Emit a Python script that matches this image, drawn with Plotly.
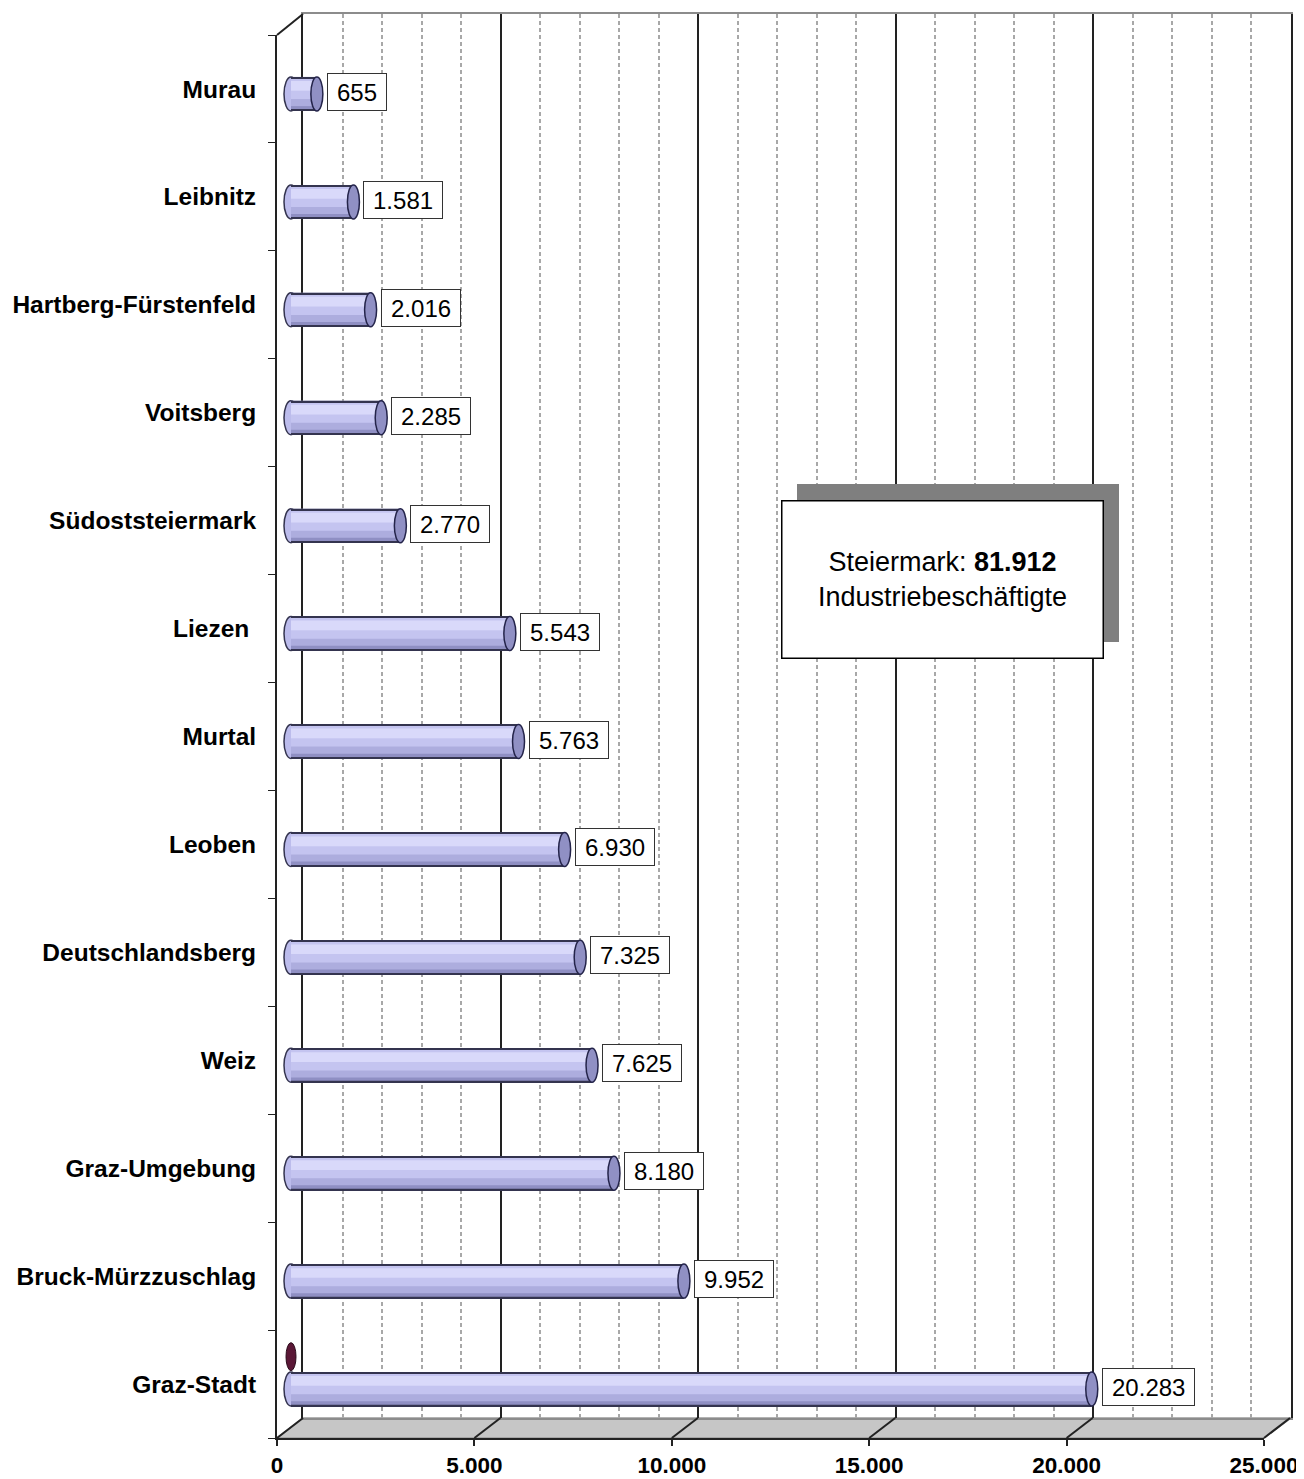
# Libraries
import plotly.graph_objects as go

# Data (bottom to top)
districts = [
    "Graz-Stadt",
    "Bruck-Mürzzuschlag",
    "Graz-Umgebung",
    "Weiz",
    "Deutschlandsberg",
    "Leoben",
    "Murtal",
    "Liezen\u00a0",
    "Südoststeiermark",
    "Voitsberg",
    "Hartberg-Fürstenfeld",
    "Leibnitz",
    "Murau",
]
employees = [20283, 9952, 8180, 7625, 7325, 6930, 5763, 5543, 2770, 2285, 2016, 1581, 655]
stray_series = [0]  # tiny second-series point drawn next to Graz-Stadt
total_steiermark = 81912
x_ticks = [0, 5000, 10000, 15000, 20000, 25000]

# Geometry (screen pixels; the page body adds an 8px offset)
OFF = 8
W, H = 1304 - OFF, 1479 - OFF
L, R, T, B = 277, 1291, 14, 1438  # plot box (front-left to back-right)
DX, DY = 26, 20  # depth offset of the back wall
PPU = 987 / 25000  # pixels per unit on the value axis
BAR0 = 291  # pixel where the cylinders start
HALF = 0.1575  # half thickness of a cylinder in category units


def px(x):
    return (x - L) / (R - L)


def py(y):
    return (B - y) / (B - T)


def fmt(v):
    return f"{v:,}".replace(",", ".")


def label_width(s):
    # rough Arial 24px width plus side padding
    return sum(6.7 if c == "." else 13.35 for c in s) + 12


FONT = "Arial, Liberation Sans, sans-serif"
DARK = "#222222"
n = len(districts)
idx = list(range(n))

fig = go.Figure()

# back wall axes (x / y) only used for the grid
fig.add_trace(go.Scatter(x=[None], y=[None], xaxis="x", yaxis="y", showlegend=False, hoverinfo="skip"))

# cylinders: stacked bands give the shaded tube look
bands = [
    (-HALF, 2 * HALF, "#c4c4f0"),  # body
    (0.03, 0.09, "#d9d9fa"),  # highlight
    (-HALF, 0.11, "#adadde"),  # lower shade
    (-HALF, 0.045, "#8f8fc3"),  # deep shade
    (HALF - 0.013, 0.013, "#34344f"),  # top edge
    (-HALF, 0.013, "#34344f"),  # bottom edge
]
for off, wid, col in bands:
    fig.add_trace(
        go.Bar(
            x=employees,
            y=idx,
            orientation="h",
            width=wid,
            offset=off,
            marker=dict(color=col, line=dict(width=0)),
            xaxis="x2",
            yaxis="y2",
            showlegend=False,
            hoverinfo="skip" if wid != 2 * HALF else None,
        )
    )

# front axes (x3 / y3) carry ticks and labels
fig.add_trace(go.Scatter(x=[None], y=[None], xaxis="x3", yaxis="y3", showlegend=False, hoverinfo="skip"))

shapes = []
# cylinder caps
for i, v in zip(idx, employees):
    shapes.append(
        dict(
            type="circle", xref="x2", yref="y2", layer="between",
            xsizemode="pixel", ysizemode="pixel", xanchor=0, yanchor=i,
            x0=-7, x1=7, y0=-17, y1=17,
            fillcolor="#bcbcec", line=dict(color="#34344f", width=1.5),
        )
    )
    shapes.append(
        dict(
            type="circle", xref="x2", yref="y2", layer="above",
            xsizemode="pixel", ysizemode="pixel", xanchor=v, yanchor=i,
            x0=-6, x1=6, y0=-17, y1=17,
            fillcolor="#9090c4", line=dict(color="#24244a", width=1.5),
        )
    )
for v in stray_series:
    shapes.append(
        dict(
            type="circle", xref="x2", yref="y2", layer="above",
            xsizemode="pixel", ysizemode="pixel", xanchor=v, yanchor=0.3,
            x0=-5, x1=5, y0=-14, y1=14,
            fillcolor="#5a1736", line=dict(color="#2a0a1a", width=1),
        )
    )

# floor of the 3D box
shapes.append(
    dict(
        type="path", xref="paper", yref="paper", layer="below",
        path=f"M {px(L)},{py(B)} L {px(L + 987)},{py(B)} L {px(R)},{py(B - DY)} L {px(L + DX)},{py(B - DY)} Z",
        fillcolor="#c6c6c6", line=dict(color="#9a9a9a", width=1.5),
    )
)
for t in x_ticks:
    xf = L + t * PPU
    shapes.append(
        dict(
            type="line", xref="paper", yref="paper", layer="above",
            x0=px(xf), y0=py(B), x1=px(xf + DX), y1=py(B - DY),
            line=dict(color=DARK, width=2),
        )
    )
# left wall top edge
shapes.append(
    dict(
        type="line", xref="paper", yref="paper",
        x0=px(L), y0=py(B - 1403), x1=px(L + DX), y1=py(T),
        line=dict(color=DARK, width=2),
    )
)

# call-out box with drop shadow
shapes.append(
    dict(
        type="rect", xref="paper", yref="paper", layer="above",
        x0=px(797), x1=px(1119), y0=py(642), y1=py(484),
        fillcolor="#7f7f7f", line=dict(width=0),
    )
)

annotations = []
for i, v in zip(idx, employees):
    annotations.append(
        dict(
            x=v, y=i, xref="x2", yref="y2", xanchor="left", yanchor="middle",
            xshift=10, yshift=2, showarrow=False, text=fmt(v),
            font=dict(family=FONT, size=24, color="black"),
            width=label_width(fmt(v)), height=30,
            bgcolor="white", bordercolor="#333333", borderwidth=1, borderpad=3,
        )
    )
annotations.append(
    dict(
        x=px(942), y=py(579), xref="paper", yref="paper",
        xanchor="center", yanchor="middle", showarrow=False,
        text=f"Steiermark: <b>{fmt(total_steiermark)}</b><br>Industriebeschäftigte",
        font=dict(family=FONT, size=27, color="black"),
        width=320, height=156, borderpad=0,
        bgcolor="white", bordercolor="black", borderwidth=1.5,
    )
)

fig.update_layout(
    width=W,
    height=H,
    autosize=False,
    margin=dict(l=L - OFF, r=W - (R - OFF), t=T - OFF, b=H - (B - OFF), pad=0),
    paper_bgcolor="white",
    plot_bgcolor="rgba(0,0,0,0)",
    separators=",.",
    barmode="overlay",
    showlegend=False,
    shapes=shapes,
    annotations=annotations,
    font=dict(family=FONT, color="black"),
    # back wall
    xaxis=dict(
        domain=[px(L + DX), 1], range=[0, 25000], anchor="y", automargin=False,
        showgrid=True, gridcolor=DARK, gridwidth=2, dtick=5000, tick0=0,
        minor=dict(dtick=1000, showgrid=True, gridcolor="#a8a8a8", griddash="4px,3px", gridwidth=1.5),
        showticklabels=False, ticks="", zeroline=False,
        showline=True, mirror=True, linecolor="#8c8c8c", linewidth=2,
    ),
    yaxis=dict(
        domain=[py(B - DY), 1], range=[0, 1], anchor="x", automargin=False,
        showgrid=False, showticklabels=False, ticks="", zeroline=False,
        showline=True, mirror=True, linecolor=DARK, linewidth=2,
    ),
    # cylinders
    xaxis2=dict(
        domain=[0, 1], range=[(L - BAR0) / PPU, (R - BAR0) / PPU], anchor="y2",
        visible=False, automargin=False,
    ),
    yaxis2=dict(
        domain=[0, py(B - 1403)], range=[-0.5 + 5 / 108, n - 0.5 + 5 / 108], anchor="x2",
        visible=False, automargin=False,
    ),
    # front axes
    xaxis3=dict(
        domain=[0, px(L + 987)], range=[0, 25000], anchor="y3", automargin=False,
        tickvals=x_ticks, tickformat=",d", ticks="outside", ticklen=6,
        tickcolor=DARK, tickwidth=1.5,
        tickfont=dict(family=FONT, size=22.5, weight="bold"),
        showgrid=False, zeroline=False,
        showline=True, linecolor=DARK, linewidth=2,
    ),
    yaxis3=dict(
        domain=[0, py(B - 1403)], range=[-0.5, n - 0.5], anchor="x3", automargin=False,
        tickvals=idx, ticktext=districts, ticks="",
        minor=dict(tickvals=[k - 0.5 for k in range(n + 1)], ticks="outside", ticklen=7, tickcolor=DARK),
        ticklabelstandoff=14,
        tickfont=dict(family=FONT, size=24.5, weight="bold"),
        showgrid=False, zeroline=False,
        showline=True, linecolor=DARK, linewidth=2,
    ),
)

fig.write_html("out.html")
